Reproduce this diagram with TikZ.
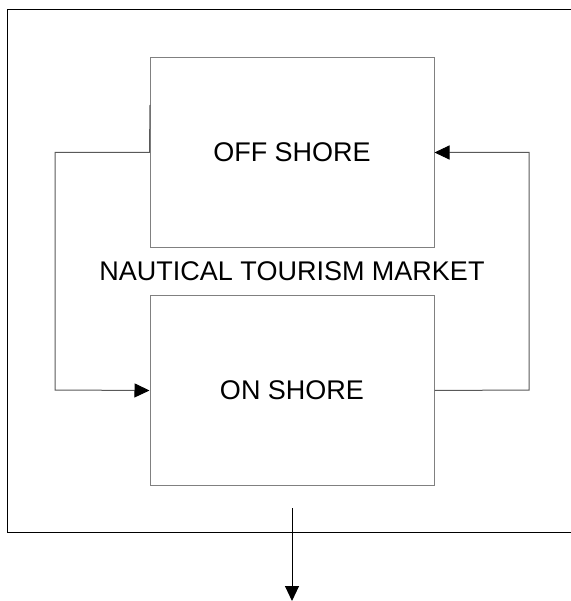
\documentclass[tikz,border=0pt]{standalone}
\usepackage{fontspec}
\setmainfont{Liberation Sans}
\usetikzlibrary{arrows.meta}
\begin{document}
\begin{tikzpicture}[x=1pt,y=-1pt,
  boxst/.style={draw=black!50,line width=1pt,minimum width=284pt,minimum height=190pt,inner sep=0pt,font=\fontsize{27}{32}\selectfont},
  conn/.style={draw=black!65,line width=1pt},
  tip/.style={-{Triangle[length=15pt,width=14pt,color=black]}},
  lbl/.style={font=\fontsize{27}{32}\selectfont,inner sep=0pt}]
\useasboundingbox (0,0) rectangle (570,601);
\draw[line width=1pt] (572,10) -- (7.5,10) -- (7.5,532) -- (572,532);
\node[boxst] (off) at (292,152.5) {OFF SHORE};
\node[boxst] (on) at (292,390.5) {ON SHORE};
\node[lbl] (mkt) at (292,271.5) {NAUTICAL TOURISM MARKET};
\coordinate (lt) at (150,105);
\coordinate (l1) at (55,152.5);
\coordinate (l2) at (55,390);
\coordinate (r1) at (529,390);
\coordinate (r2) at (529,152.5);
\draw[conn,tip] (lt) -- (off.west) -- (l1) -- (l2) -- (on.west);
\draw[conn,tip] (on.east) -- (r1) -- (r2) -- (off.east);
\coordinate (a0) at (292,508);
\coordinate (a1) at (292,601);
\draw[line width=1pt,tip] (a0) -- (a1);
\end{tikzpicture}
\end{document}
